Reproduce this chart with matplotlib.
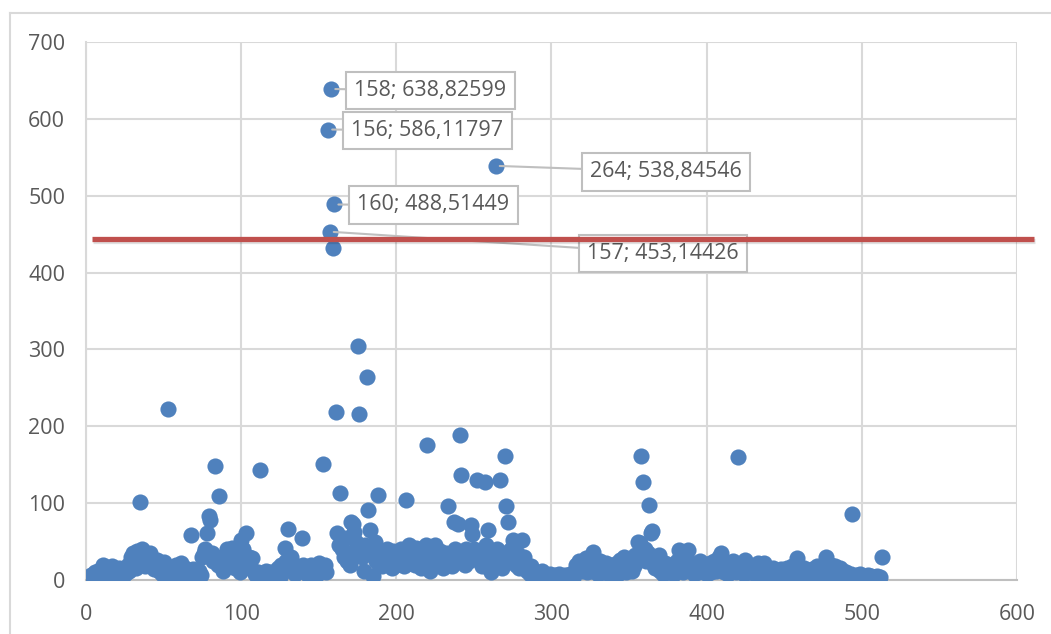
import numpy as np
import matplotlib.pyplot as plt
import matplotlib.patheffects as pe

plt.rcParams['font.family'] = ['Open Sans', 'DejaVu Sans']
plt.rcParams['xtick.labelsize'] = 15.5
plt.rcParams['ytick.labelsize'] = 15.5

# values by index 0..513
y_vals = [2,
    2, 4, 6, 3, 8, 10, 5, 12, 7, 14, 20, 9, 6, 15, 11, 4, 18, 8, 3, 12,
    16, 7, 10, 5, 14, 9, 20, 12, 30, 35, 22, 15, 38, 28, 101, 40, 25, 18, 33, 30,
    35, 20, 26, 14, 22, 26, 12, 18, 8, 24, 15, 6, 222, 10, 16, 5, 12, 20, 8, 14,
    22, 10, 6, 15, 9, 12, 4, 58, 14, 8, 5, 10, 12, 6, 30, 35, 40, 61, 83, 78,
    35, 25, 148, 30, 20, 109, 18, 12, 22, 30, 40, 18, 25, 42, 35, 15, 20, 30, 10, 52,
    40, 25, 61, 20, 30, 15, 28, 12, 8, 5, 10, 143, 6, 3, 8, 12, 4, 10, 2, 6,
    5, 12, 8, 15, 4, 20, 10, 42, 25, 66, 15, 30, 20, 10, 8, 18, 12, 14, 55, 20,
    10, 15, 6, 12, 20, 8, 14, 5, 18, 22, 12, 16, 151, 20, 10, 586, 453, 639, 432, 489,
    219, 61, 45, 113, 40, 30, 55, 25, 35, 20, 75, 73, 62, 50, 305, 216, 40, 30, 12, 45,
    264, 91, 65, 35, 5, 49, 25, 110, 20, 30, 18, 35, 25, 40, 22, 30, 15, 38, 28, 20,
    35, 25, 40, 30, 18, 104, 28, 45, 22, 35, 30, 20, 42, 40, 25, 15, 35, 30, 45, 176,
    28, 12, 35, 40, 45, 20, 30, 38, 22, 15, 28, 35, 96, 25, 30, 18, 75, 40, 35, 73,
    189, 137, 30, 20, 40, 35, 25, 72, 60, 40, 30, 130, 28, 35, 18, 25, 127, 45, 65, 20,
    10, 30, 25, 539, 40, 22, 130, 15, 35, 161, 96, 75, 28, 40, 52, 30, 20, 35, 15, 25,
    52, 30, 20, 12, 15, 8, 18, 5, 10, 6, 3, 8, 4, 12, 2, 6, 5, 3, 8, 2,
    4, 6, 2, 5, 8, 3, 4, 2, 6, 3, 5, 8, 4, 2, 10, 20, 15, 25, 12, 20,
    15, 28, 10, 18, 22, 12, 37, 20, 15, 8, 25, 12, 18, 10, 22, 15, 8, 12, 20, 10,
    15, 22, 8, 26, 18, 12, 30, 10, 15, 20, 25, 12, 18, 33, 30, 50, 48, 161, 127, 40,
    25, 35, 97, 61, 64, 20, 15, 30, 32, 12, 18, 8, 22, 15, 10, 20, 12, 18, 8, 15,
    25, 39, 15, 20, 10, 22, 35, 39, 18, 12, 20, 8, 15, 22, 10, 25, 18, 12, 20, 8,
    15, 22, 10, 18, 25, 12, 20, 30, 35, 15, 10, 22, 18, 8, 20, 12, 25, 15, 10, 160,
    18, 12, 22, 8, 26, 15, 10, 20, 12, 18, 8, 15, 22, 10, 12, 6, 22, 15, 8, 12,
    10, 6, 15, 8, 12, 5, 10, 14, 6, 12, 8, 15, 5, 10, 18, 6, 12, 29, 8, 14,
    5, 10, 16, 6, 12, 4, 8, 14, 10, 5, 18, 8, 12, 6, 15, 10, 30, 8, 14, 20,
    12, 6, 18, 10, 4, 15, 8, 12, 5, 10, 6, 4, 8, 86, 5, 3, 6, 4, 8, 3,
    5, 2, 4, 6, 3, 5, 2, 4, 3, 5, 2, 4, 30]
x_vals = np.arange(len(y_vals))

# labelled points
lab_x = [158, 156, 264, 160, 157]
lab_y = [638.82599, 586.11797, 538.84546, 488.51449, 453.14426]
lab_txt = ['158; 638,82599', '156; 586,11797', '264; 538,84546',
           '160; 488,51449', '157; 453,14426']
lab_pos = [(222, 637), (220, 585), (374, 531), (224, 488), (372, 425)]

threshold = 443

fig = plt.figure(figsize=(10.51, 6.34), dpi=100)
ax = fig.add_axes([0.0818, 0.0852, 0.8858, 0.8486])

ax.scatter(x_vals, y_vals, s=135, color='#4F81BD', linewidths=0, zorder=3)

for (lx, ly, t, pos) in zip(lab_x, lab_y, lab_txt, lab_pos):
    ax.annotate(t, xy=(lx, ly), xytext=pos, ha='center', va='center',
                fontsize=15.5, color='#595959', zorder=4,
                bbox=dict(boxstyle='square,pad=0.38', fc='white', ec='#BFBFBF', lw=1.5),
                arrowprops=dict(arrowstyle='-', color='#BFBFBF', lw=1.5,
                                shrinkA=0, shrinkB=3))

ax.plot([4, 611], [threshold, threshold], color='#C0504D', lw=3.8,
        solid_capstyle='butt', clip_on=False, zorder=5,
        path_effects=[pe.SimpleLineShadow(offset=(0.8, -1.2), alpha=0.12),
                      pe.Normal()])

ax.set_xlim(0, 600)
ax.set_ylim(0, 700)
ax.set_xticks(range(0, 601, 100))
ax.set_yticks(range(0, 701, 100))
ax.grid(True, color='#D9D9D9', lw=1.5)
ax.set_axisbelow(True)
for s in ['top', 'right']:
    ax.spines[s].set_visible(False)
ax.spines['bottom'].set_color('#BFBFBF')
ax.spines['bottom'].set_linewidth(1.5)
ax.spines['left'].set_color('#D9D9D9')
ax.spines['left'].set_linewidth(1.5)
ax.tick_params(length=0, labelcolor='#595959')
ax.tick_params(axis='x', pad=17)
ax.tick_params(axis='y', pad=15)

# chart area border
fig.add_artist(plt.Line2D([10/1051, 1], [1 - 13/634, 1 - 13/634],
                          color='#D9D9D9', lw=1.5, transform=fig.transFigure))
fig.add_artist(plt.Line2D([10/1051, 10/1051], [0, 1 - 13/634],
                          color='#D9D9D9', lw=1.5, transform=fig.transFigure))

fig.savefig('out.png', dpi=100)
